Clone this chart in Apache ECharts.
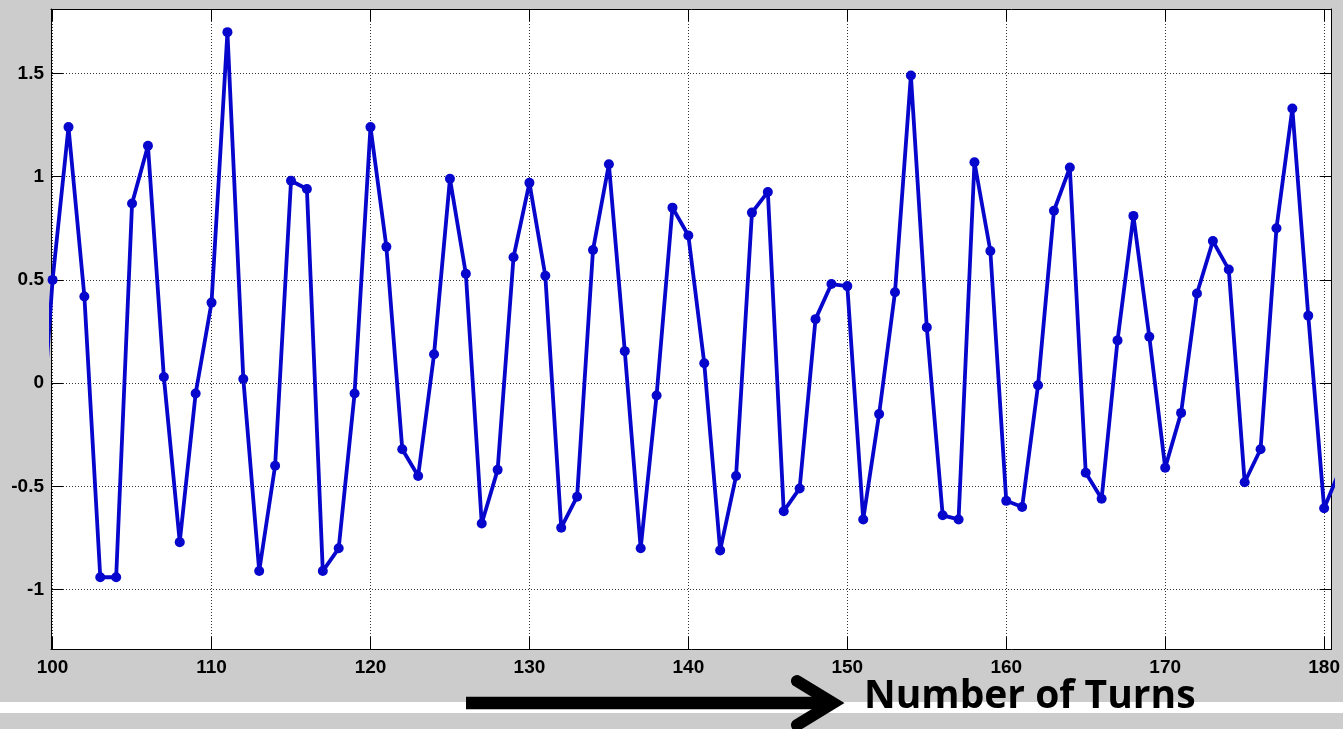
<!DOCTYPE html>
<html><head><meta charset="utf-8">
<script src="https://cdn.jsdelivr.net/npm/echarts@6/dist/echarts.min.js"></script>
<style>html,body{margin:0;padding:0;background:#cccccc;} #c{width:1343px;height:729px;}</style>
</head><body><div id="c"></div>
<script>
const turns = [99,100,101,102,103,104,105,106,107,108,109,110,111,112,113,114,115,116,117,118,119,120,
  121,122,123,124,125,126,127,128,129,130,131,132,133,134,135,136,137,138,139,140,
  141,142,143,144,145,146,147,148,149,150,151,152,153,154,155,156,157,158,159,160,
  161,162,163,164,165,166,167,168,169,170,171,172,173,174,175,176,177,178,179,180,181];
const values = [-0.6,0.50,1.24,0.42,-0.94,-0.94,0.87,1.15,0.03,-0.77,-0.05,0.39,1.70,0.02,-0.91,-0.40,0.98,0.94,-0.91,-0.80,-0.05,1.24,
  0.66,-0.32,-0.45,0.14,0.99,0.53,-0.68,-0.42,0.61,0.97,0.52,-0.70,-0.55,0.645,1.06,0.155,-0.80,-0.06,0.85,0.715,
  0.096,-0.81,-0.45,0.826,0.926,-0.62,-0.51,0.31,0.48,0.47,-0.66,-0.15,0.44,1.49,0.27,-0.64,-0.66,1.07,0.64,-0.57,
  -0.60,-0.01,0.835,1.044,-0.434,-0.56,0.207,0.81,0.225,-0.41,-0.144,0.434,0.688,0.55,-0.48,-0.32,0.75,1.33,0.327,-0.606,-0.42];
const xTicks = [100,110,120,130,140,150,160,170,180];
const yTicks = [-1,-0.5,0,0.5,1,1.5];
const xTitle = 'Number of Turns';
const xRange = [99.9, 180.47];
const yRange = [-1.2875, 1.812];

const lineColor = '#0606cc';
const labelFont = {fontWeight:'bold', fontSize:19, fontFamily:'"Liberation Sans", Arial, sans-serif', color:'#000'};
function xAxisDef(pos, main){
  return {type:'value', min:xRange[0], max:xRange[1], position:pos,
    axisLine:{show:true, onZero:false, lineStyle:{color:'#000', width:1}},
    axisTick:{show:true, inside:true, length:12, customValues:xTicks, lineStyle:{color:'#000', width:1}},
    axisLabel: main ? Object.assign({show:true, customValues:xTicks, margin:9}, labelFont) : {show:false},
    splitLine: main ? {show:true, lineStyle:{type:[1,2], color:'#333', width:1}} : {show:false}};
}
function yAxisDef(pos, main){
  return {type:'value', min:yRange[0], max:yRange[1], position:pos,
    axisLine:{show:true, onZero:false, lineStyle:{color:'#000', width:1}},
    axisTick:{show:true, inside:true, length:12, customValues:yTicks, lineStyle:{color:'#000', width:1}},
    axisLabel: main ? Object.assign({show:true, customValues:yTicks, margin:7}, labelFont) : {show:false},
    splitLine: main ? {show:true, lineStyle:{type:[1,2], color:'#333', width:1}} : {show:false}};
}
const chart = echarts.init(document.getElementById('c'), null, {renderer:'canvas'});
chart.setOption({
  animation:false,
  backgroundColor:'#cccccc',
  grid:{left:51, top:9, right:10, bottom:80, show:true, backgroundColor:'#ffffff', borderWidth:0},
  xAxis:[xAxisDef('bottom', true), xAxisDef('top', false)],
  yAxis:[yAxisDef('left', true), yAxisDef('right', false)],
  graphic:[
    {type:'rect', z:-1, shape:{x:0, y:702, width:1343, height:11}, style:{fill:'#ffffff'}},
    {type:'polyline', shape:{points:[[466,703],[832,703]]}, style:{stroke:'#000', lineWidth:12.5, fill:null}},
    {type:'polyline', shape:{points:[[797,681],[833,703],[797,725]]}, style:{stroke:'#000', lineWidth:12, fill:null, lineJoin:'miter', lineCap:'round'}},
    {type:'text', x:864, y:697, style:{text:xTitle, font:'bold 39px "Open Sans", sans-serif', fill:'#000', verticalAlign:'middle', align:'left'}}
  ],
  series:[{
    type:'line', xAxisIndex:0, yAxisIndex:0, clip:true,
    data: turns.map((t,i)=>[t, values[i]]),
    symbol:'circle', symbolSize:10, showAllSymbol:true,
    lineStyle:{color:lineColor, width:3.8},
    itemStyle:{color:lineColor}
  }]
});
</script></body></html>
